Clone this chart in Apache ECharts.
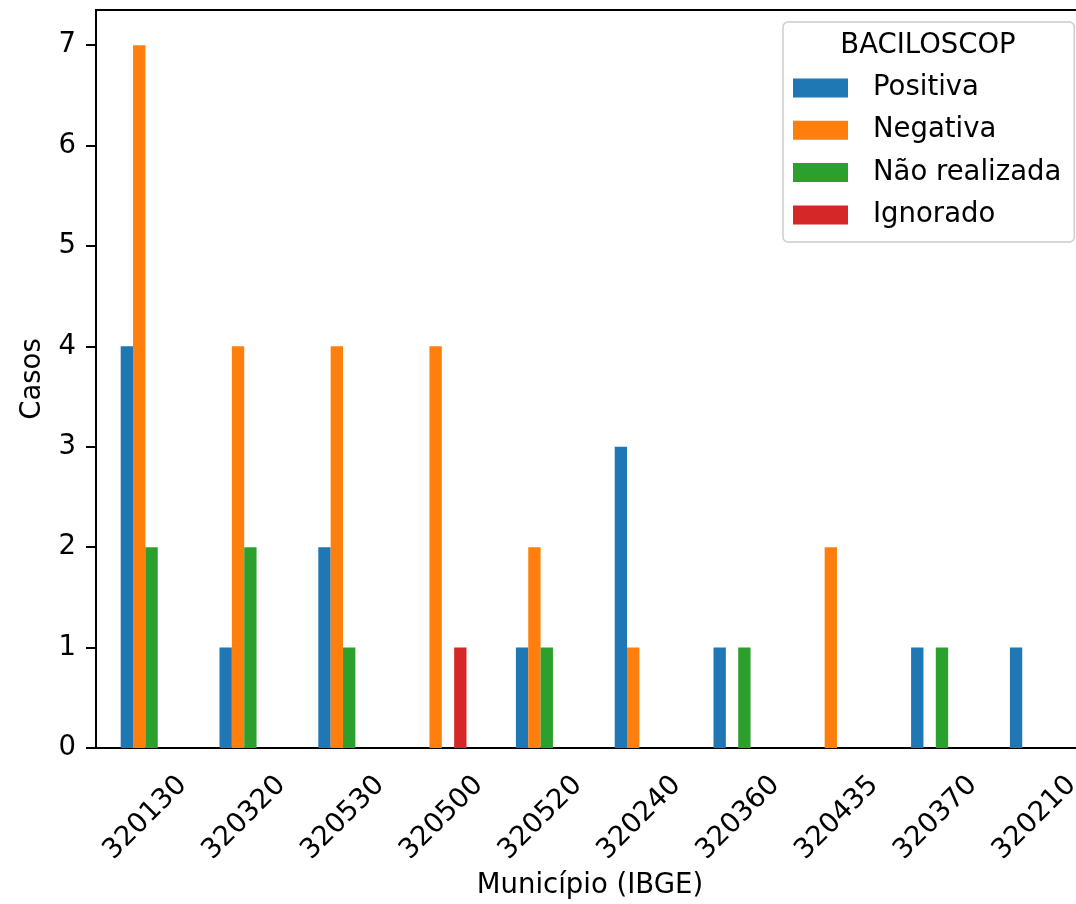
<!DOCTYPE html>
<html>
<head>
<meta charset="utf-8">
<script src="https://cdn.jsdelivr.net/npm/echarts@6/dist/echarts.min.js"></script>
<style>
html,body{margin:0;padding:0;background:#fff;overflow:hidden;}
#c{width:1076px;height:904px;}
</style>
</head>
<body>
<div id="c"></div>
<script>
const categories = ['320130','320320','320530','320500','320520','320240','320360','320435','320370','320210'];
const positiva    = [4,1,2,0,1,3,1,0,1,1];
const negativa    = [7,4,4,4,2,1,0,2,0,0];
const naoRealizada= [2,2,1,0,1,0,1,0,1,0];
const ignorado    = [0,0,0,1,0,0,0,0,0,0];
const seriesNames = ['Positiva','Negativa','Não realizada','Ignorado'];
const yTicks = [0,1,2,3,4,5,6,7];
const legendTitle = 'BACILOSCOP';
const xName = 'Município (IBGE)';
const yName = 'Casos';

const colors = ['#1f77b4','#ff7f0e','#2ca02c','#d62728'];
const FONT = 'DejaVu Sans';
const FS = 27.5;
const chart = echarts.init(document.getElementById('c'));
const data = [positiva, negativa, naoRealizada, ignorado];

chart.setOption({
  animation:false,
  textStyle:{fontFamily:FONT},
  grid:{left:96, top:10, right:-8, bottom:156, outerBoundsMode:'none', containLabel:false,
        show:true, borderColor:'#000', borderWidth:2, backgroundColor:'transparent'},
  xAxis:{
    type:'category', data:categories,
    name:xName, nameLocation:'middle', nameGap:110,
    nameTextStyle:{fontSize:FS, color:'#000', fontFamily:FONT},
    axisLine:{lineStyle:{color:'#000', width:2}},
    axisTick:{alignWithLabel:true, length:10, lineStyle:{color:'#000', width:2}},
    axisLabel:{rotate:45, fontSize:FS, color:'#000', margin:70, align:'center', verticalAlign:'middle', interval:0, fontFamily:FONT},
    splitLine:{show:false}
  },
  yAxis:{
    type:'value', min:0, max:7.35,
    name:yName, nameLocation:'middle', nameGap:49, nameRotate:90,
    nameTextStyle:{fontSize:FS, color:'#000', fontFamily:FONT},
    axisLine:{show:true, lineStyle:{color:'#000', width:2}},
    axisTick:{show:true, length:10, lineStyle:{color:'#000', width:2}, customValues:yTicks},
    axisLabel:{fontSize:FS, color:'#000', margin:20, customValues:yTicks, fontFamily:FONT},
    splitLine:{show:false}
  },
  legend:{
    orient:'vertical', left:783, top:22,
    data:seriesNames,
    itemWidth:55, itemHeight:19, itemGap:14.3,
    icon:'rect',
    padding:[52, 13, 13, 10],
    borderColor:'#cccccc', borderWidth:1.5, borderRadius:5, backgroundColor:'#fff',
    textStyle:{fontSize:FS, color:'#000', lineHeight:28, padding:[0,0,0,20], fontFamily:FONT},
    z:10
  },
  graphic:[{
    type:'text', z:20, x:928, y:46,
    style:{text:legendTitle, fontSize:FS, fill:'#000', fontFamily:FONT, textAlign:'center', textVerticalAlign:'middle'}
  }],
  series: seriesNames.map((n,i)=>({
    name:n, type:'bar', data:data[i], barWidth:'12.5%', barGap:'0%',
    itemStyle:{color:colors[i]}
  }))
});
</script>
</body>
</html>
